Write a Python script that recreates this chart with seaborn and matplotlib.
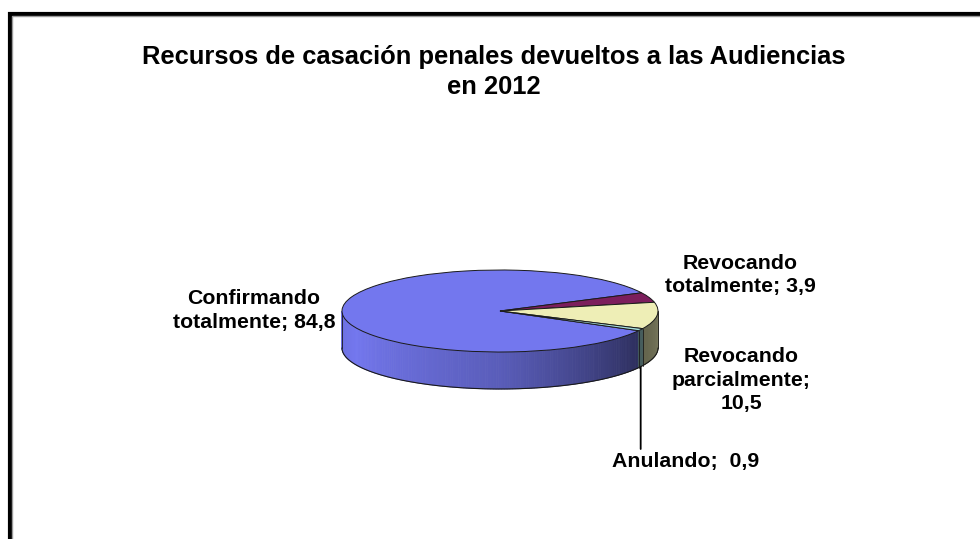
import numpy as np
import matplotlib
matplotlib.use("Agg")
import matplotlib.pyplot as plt
import seaborn as sns
from matplotlib.patches import Polygon, Rectangle
from matplotlib.colors import to_rgb

# ---------------- data ----------------
categories = ["Confirmando totalmente", "Revocando totalmente",
              "Revocando parcialmente", "Anulando"]
values = [84.8, 3.9, 10.5, 0.9]
label_texts = ["Confirmando\ntotalmente; 84,8", "Revocando\ntotalmente; 3,9",
               "Revocando\nparcialmente;\n10,5", "Anulando;  0,9"]
title_text = "Recursos de casación penales devueltos a las Audiencias\nen 2012"

top_colors = ["#7377EE", "#7C1E5C", "#EEEEB6", "#A6DEDE"]

sns.set_theme(style="white")
plt.rcParams["font.family"] = ["Liberation Sans", "DejaVu Sans"]
plt.rcParams["text.color"] = "black"

W, H = 980, 539
fig = plt.figure(figsize=(W / 100, H / 100), dpi=100)
fig.patch.set_facecolor("white")

# frame border (extends past right/bottom edges)
fig.add_artist(Rectangle((9.5 / W, -0.2), 1.2, 0.2 + 1 - 13.5 / H,
                         transform=fig.transFigure, fill=False,
                         edgecolor="black", linewidth=3))
fig.add_artist(Rectangle((11.8 / W, -0.2), 1.2, 0.2 + 1 - 15.8 / H,
                         transform=fig.transFigure, fill=False,
                         edgecolor="#9a9a9a", linewidth=1))

# pie geometry (pixels)
cx, cy = 500, 311
a_px, b_px = 158, 41
depth = 37 / b_px
xl, yl_top, yl_bot = 1.3, 1.3, -2.3
left_px = cx - xl * a_px
width_px = 2 * xl * a_px
top_px = cy - yl_top * b_px
height_px = (yl_top - yl_bot) * b_px
ax = fig.add_axes([left_px / W, 1 - (top_px + height_px) / H,
                   width_px / W, height_px / H])

wedges, _ = ax.pie(values, colors=top_colors, startangle=331.3,
                   counterclock=False, radius=1, center=(0, 0),
                   wedgeprops=dict(edgecolor="#1a1a1a", linewidth=0.7,
                                   zorder=5))
ax.set_aspect("auto")
ax.set_xlim(-xl, xl)
ax.set_ylim(yl_bot, yl_top)
ax.axis("off")

# side walls with shading (front half only)
shade_t = [180, 205, 270, 330, 360]
shade_f = [0.93, 1.0, 0.78, 0.40, 0.50]


def side_pieces(t1, t2):
    out = []
    for k in (-360, 0, 360):
        lo, hi = max(t1 + k, 180), min(t2 + k, 360)
        if hi > lo:
            out.append((lo, hi))
    return out


boundaries = []
for w, col in zip(wedges, top_colors):
    base = np.array(to_rgb(col))
    for lo, hi in side_pieces(w.theta1, w.theta2):
        n = max(2, int(np.ceil(hi - lo)))
        edges = np.linspace(lo, hi, n + 1)
        for s0, s1 in zip(edges[:-1], edges[1:]):
            tt = np.radians(np.linspace(s0, s1, 4))
            xs = np.cos(tt)
            ys = np.sin(tt)
            poly = np.vstack([np.column_stack([xs, ys]),
                              np.column_stack([xs[::-1], ys[::-1] - depth])])
            f = np.interp((s0 + s1) / 2, shade_t, shade_f)
            c = np.clip(base * f, 0, 1)
            ax.add_patch(Polygon(poly, closed=True, facecolor=c,
                                 edgecolor=c, linewidth=0.6, zorder=2))
        boundaries.extend([lo, hi])

# side outlines
tt = np.radians(np.linspace(180, 360, 300))
ax.plot(np.cos(tt), np.sin(tt) - depth, color="#1a1a1a", lw=0.8, zorder=4)
for b in set(np.round(boundaries, 3)):
    r = np.radians(b)
    ax.plot([np.cos(r)] * 2, [np.sin(r), np.sin(r) - depth],
            color="#1a1a1a", lw=0.6, zorder=4)

# ---------------- labels ----------------
fs = 15.3
def ftext(x, y, s):
    fig.text(x / W, 1 - y / H, s, ha="center", va="center",
             fontsize=fs, fontweight="bold", color="black",
             linespacing=1.33)

fig.text(494 / W, 1 - 72 / H, title_text, ha="center", va="center",
         fontsize=18.4, fontweight="bold", color="black", linespacing=1.3)

ftext(254, 310.5, label_texts[0])
ftext(740, 275, label_texts[1])
ftext(741, 380, label_texts[2])
ftext(686, 461, label_texts[3])

# leader line from the thin slice's side wall down to its label
tw = wedges[3]
mid = np.radians((tw.theta1 + tw.theta2) / 2)
y_end = (cy - 449) / b_px
ax.annotate("", xy=(np.cos(mid), np.sin(mid) - depth),
            xytext=(np.cos(mid), y_end),
            arrowprops=dict(arrowstyle="-", color="black", lw=1.3,
                            shrinkA=0, shrinkB=0),
            annotation_clip=False)

fig.savefig("out.png", dpi=100, facecolor="white")
